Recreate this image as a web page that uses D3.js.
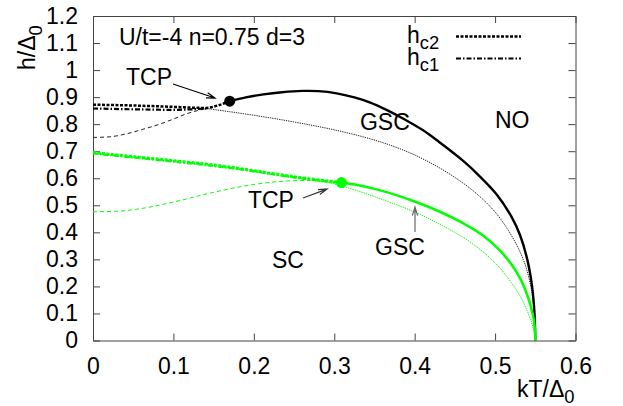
<!DOCTYPE html>
<html>
<head>
<meta charset="utf-8">
<script src="https://cdn.jsdelivr.net/npm/d3@7"></script>
<style>
  body { margin: 0; background: #fff; }
  svg { display: block; font-family: "Liberation Sans", Arial, sans-serif; }
  text { fill: #000; }
</style>
</head>
<body>
<svg id="chart" width="623" height="406"></svg>
<script>
"use strict";

// tick values
const xTicks = [0, 0.1, 0.2, 0.3, 0.4, 0.5, 0.6];
const yTicks = [0, 0.1, 0.2, 0.3, 0.4, 0.5, 0.6, 0.7, 0.8, 0.9, 1, 1.1, 1.2];

// black set (kT, h)
const blackFirst = [[0.170,0.885],[0.19,0.899],[0.212,0.910],[0.235,0.918],[0.26,0.923],[0.28,0.922],
  [0.303,0.914],[0.325,0.899],[0.344,0.881],[0.365,0.853],[0.386,0.820],[0.41,0.778],[0.43,0.735],
  [0.46,0.665],[0.48,0.610],[0.502,0.540],[0.52,0.460],[0.531,0.390],[0.540,0.300],[0.546,0.200],
  [0.549,0.100],[0.55,0]];
const blackGsc = [[0.141,0.858],[0.17,0.846],[0.2,0.833],[0.233,0.817],[0.27,0.797],[0.3,0.779],
  [0.336,0.753],[0.37,0.722],[0.4,0.686],[0.427,0.645],[0.45,0.603],[0.475,0.548],[0.5,0.475],
  [0.52,0.390],[0.535,0.300],[0.543,0.220],[0.548,0.130],[0.5495,0.06],[0.55,0]];
const blackLow = [[0,0.751],[0.02,0.753],[0.041,0.764],[0.062,0.781],[0.083,0.800],[0.1,0.819],
  [0.116,0.838],[0.141,0.858]];
const blackHc2 = [[0,0.872],[0.05,0.869],[0.1,0.864],[0.14,0.860],[0.155,0.869],[0.17,0.885]];
const blackHc1 = [[0,0.858],[0.05,0.855],[0.1,0.853],[0.141,0.858]];
const blackTcp = [0.170, 0.885];

// green set
const greenFirst = [[0.309,0.584],[0.33,0.574],[0.355,0.557],[0.38,0.535],[0.40,0.514],[0.43,0.478],
  [0.46,0.434],[0.485,0.388],[0.505,0.336],[0.52,0.283],[0.532,0.225],[0.541,0.160],[0.547,0.095],
  [0.5495,0.045],[0.55,0]];
const greenGsc = [[0.27,0.592],[0.286,0.588],[0.311,0.570],[0.35,0.532],[0.40,0.475],[0.43,0.432],
  [0.465,0.372],[0.49,0.315],[0.506,0.268],[0.52,0.215],[0.531,0.165],[0.54,0.11],[0.546,0.06],
  [0.549,0.025],[0.55,0]];
const greenLow = [[0,0.476],[0.03,0.478],[0.06,0.488],[0.1,0.512],[0.15,0.548],[0.2,0.577],
  [0.25,0.591],[0.27,0.592]];
const greenHc2 = [[0,0.695],[0.05,0.680],[0.1,0.665],[0.166,0.643],[0.2,0.628],[0.249,0.606],
  [0.28,0.594],[0.309,0.584]];
const greenHc1 = [[0,0.692],[0.05,0.677],[0.1,0.662],[0.166,0.640],[0.2,0.626],[0.249,0.604],
  [0.28,0.592],[0.309,0.583]];
const greenTcp = [0.309, 0.584];

// annotations in data coordinates
const labels = [
  {t:"U/t=-4 n=0.75 d=3", x:0.0323, y:1.0928},
  {t:"TCP", x:0.041, y:0.9449},
  {t:"GSC", x:0.332, y:0.7785},
  {t:"NO", x:0.4999, y:0.7859},
  {t:"TCP", x:0.1927, y:0.490},
  {t:"SC", x:0.2226, y:0.268},
  {t:"GSC", x:0.3507, y:0.316}
];
const arrows = [
  {from:[0.0995,0.9486], to:[0.1517,0.8968], c:"#000"},
  {from:[0.2611,0.527], to:[0.291,0.560], c:"#333"},
  {from:[0.4004,0.4013], to:[0.4004,0.4937], c:"#666"}
];

const GREEN = "#00ff00";
const svg = d3.select("#chart");
const m = {l:93, r:575.5, t:16, b:340.5};
const x = d3.scaleLinear().domain([0, 0.6]).range([m.l, m.r]);
const y = d3.scaleLinear().domain([0, 1.2]).range([m.b, m.t]);
const line = d3.line().x(d => x(d[0])).y(d => y(d[1])).curve(d3.curveMonotoneX);
const arc = d3.line().x(d => x(d[0])).y(d => y(d[1])).curve(d3.curveCatmullRom.alpha(0.5));

// axes, ticks inside on all four sides
const fs = 23;
const ax = (gen, tr, lab) => {
  const g = svg.append("g").attr("transform", tr).call(gen);
  g.select(".domain").attr("stroke", "#444");
  g.selectAll(".tick line").attr("stroke", "#444");
  g.selectAll("text").attr("font-size", fs).attr("font-family", "Liberation Sans, Arial, sans-serif");
  if (!lab) g.selectAll("text").remove();
  return g;
};
ax(d3.axisBottom(x).tickValues(xTicks).tickFormat(d3.format("")).tickSize(-7).tickSizeOuter(0).tickPadding(17),
   `translate(0,${m.b})`, true);
ax(d3.axisTop(x).tickValues(xTicks).tickSize(-7).tickSizeOuter(0), `translate(0,${m.t})`, false);
ax(d3.axisLeft(y).tickValues(yTicks).tickFormat(d3.format("")).tickSize(-7).tickSizeOuter(0).tickPadding(15),
   `translate(${m.l},0)`, true);
ax(d3.axisRight(y).tickValues(yTicks).tickSize(-7).tickSizeOuter(0), `translate(${m.r},0)`, false);

// curves
const path = (data, stroke, w, dash, gen) => svg.append("path")
  .attr("d", (gen || line)(data)).attr("fill", "none").attr("stroke", stroke)
  .attr("stroke-width", w).attr("stroke-dasharray", dash || null);

path(blackLow, "#222", 1, "4,3");
path(blackGsc, "#222", 1, "1.3,1", arc);
path(blackHc1, "#000", 2.2, "5,2,1.5,2");
path(blackHc2, "#000", 2.5, "3,1.5");
path(blackFirst, "#000", 2.4, null, arc);

path(greenLow, GREEN, 1, "4,3");
path(greenGsc, GREEN, 1, "1.3,1", arc);
path(greenHc1, GREEN, 2.5, "5,2,1.5,2");
path(greenHc2, GREEN, 3, "3,1.5");
path(greenFirst, GREEN, 2.5, null, arc);

svg.append("circle").attr("cx", x(blackTcp[0])).attr("cy", y(blackTcp[1])).attr("r", 5.5).attr("fill", "#000");
svg.append("circle").attr("cx", x(greenTcp[0])).attr("cy", y(greenTcp[1])).attr("r", 5.5).attr("fill", GREEN);

// arrows (open heads like gnuplot)
arrows.forEach(a => {
  const x1 = x(a.from[0]), y1 = y(a.from[1]), x2 = x(a.to[0]), y2 = y(a.to[1]);
  const ang = Math.atan2(y2 - y1, x2 - x1), L = 9, s = 0.3;
  const h1 = [x2 - L*Math.cos(ang - s), y2 - L*Math.sin(ang - s)];
  const h2 = [x2 - L*Math.cos(ang + s), y2 - L*Math.sin(ang + s)];
  svg.append("path")
    .attr("d", `M${x1},${y1}L${x2},${y2}M${h1}L${x2},${y2}L${h2}`)
    .attr("fill", "none").attr("stroke", a.c).attr("stroke-width", 1.2);
});

// annotation labels
labels.forEach(l => svg.append("text").attr("x", x(l.x)).attr("y", y(l.y))
  .attr("font-size", fs).text(l.t));

// legend
const legend = [{sub:"c2", dash:"3,1.5", w:2.5}, {sub:"c1", dash:"5,2,1.5,2", w:2.2}];
legend.forEach((d, i) => {
  const by = 43 + i * 22;
  const t = svg.append("text").attr("x", 407).attr("y", by).attr("font-size", fs);
  t.append("tspan").text("h");
  t.append("tspan").attr("dy", 6).attr("font-size", fs * 0.8).text(d.sub);
  svg.append("line").attr("x1", 456).attr("x2", 521).attr("y1", by - 6.5).attr("y2", by - 6.5)
    .attr("stroke", "#000").attr("stroke-width", d.w).attr("stroke-dasharray", d.dash);
});

// axis titles
const yl = svg.append("text").attr("transform", "translate(35,70) rotate(-90)").attr("font-size", fs);
yl.append("tspan").text("h/Δ");
yl.append("tspan").attr("dy", 7).attr("font-size", fs * 0.8).text("0");

const xl = svg.append("text").attr("x", 517).attr("y", 397).attr("font-size", fs);
xl.append("tspan").text("kT/Δ");
xl.append("tspan").attr("dy", 6).attr("font-size", fs * 0.8).text("0");
</script>
</body>
</html>
